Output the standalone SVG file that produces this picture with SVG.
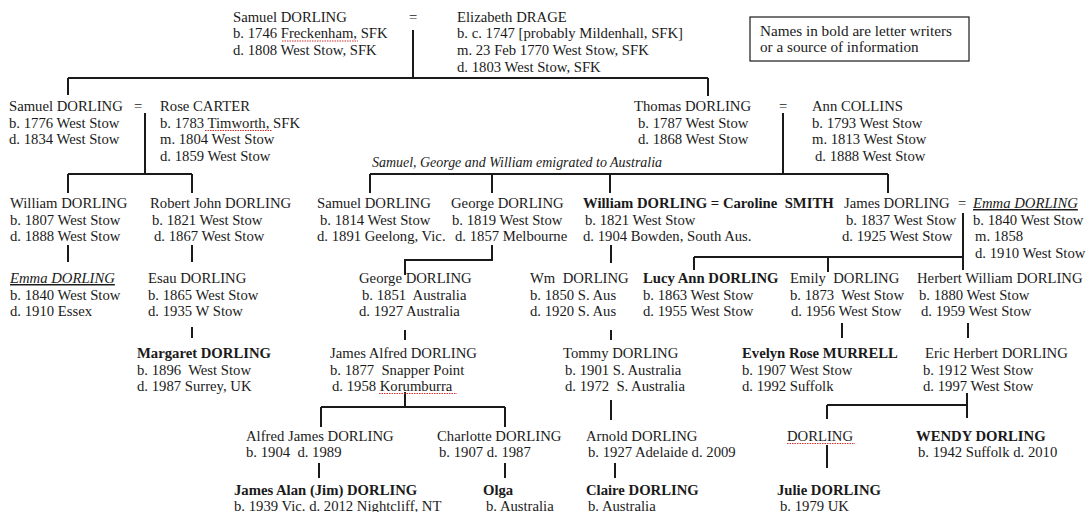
<svg xmlns="http://www.w3.org/2000/svg" width="1089" height="512" viewBox="0 0 1089 512">
<style>
text{font-family:"Liberation Serif","Times New Roman",serif;font-size:14.7px;fill:#1a1a1a;white-space:pre}
.b{font-weight:bold}
.i{font-style:italic}
.u{text-decoration:underline}
.lg{font-size:15.2px}
.c path{stroke:#1a1a1a;stroke-width:2;fill:none}
.w{stroke:#d03030;stroke-width:1;fill:none;stroke-dasharray:1.5 1}
</style>
<rect width="1089" height="512" fill="#fff"/>
<g class="c" id="connectors">
<path d="M413 30V78M68 78H708M68 78V95M708 78V96"/>
<path d="M145 113V174M68 174H192M68 174V193M192 174V193"/>
<path d="M783 113V174M370 174H888M370 174V193M492 174V193M610 174V193M888 174V193"/>
<path d="M68 245V262M192 245V262M492 245V260H405V275M611 245V263"/>
<path d="M963 213V270M694 257H963M694 257V270M828 257V272"/>
<path d="M192 327V338M405 330V340M611 330V340M842 323V338M968 323V338"/>
<path d="M405 392V407M321 407H505M321 407V427M505 407V427M611 400V420"/>
<path d="M967 393V418M827 405H967M827 405V419"/>
<path d="M319 463V478M505 463V478M615 463V478M827 445V468"/>
</g>
<g id="legend">
<rect x="750" y="17" width="219" height="44" fill="#fff" stroke="#1a1a1a" stroke-width="1.2"/>
<text class="lg" x="760" y="36">Names in bold are letter writers</text>
<text class="lg" x="760" y="51.5">or a source of information</text>
</g>
<g id="samuel1746">
<text x="233" y="21.5">Samuel DORLING</text>
<text x="233" y="38">b. 1746 Freckenham, SFK</text>
<text x="233" y="54.5">d. 1808 West Stow, SFK</text>
<path class="w" d="M282 41H358"/>
</g>
<text x="409" y="21.5">=</text>
<g id="elizabeth">
<text x="457" y="21.5">Elizabeth DRAGE</text>
<text x="457" y="38">b. c. 1747 [probably Mildenhall, SFK]</text>
<text x="457" y="54.5">m. 23 Feb 1770 West Stow, SFK</text>
<text x="457" y="71.5">d. 1803 West Stow, SFK</text>
</g>
<g id="samuel1776">
<text x="9" y="111">Samuel DORLING</text>
<text x="134" y="111">=</text>
<text x="9" y="127.5">b. 1776 West Stow</text>
<text x="9" y="144">d. 1834 West Stow</text>
</g>
<g id="rose">
<text x="160" y="111">Rose CARTER</text>
<text x="160" y="127.5">b. 1783 Timworth, SFK</text>
<text x="160" y="144">m. 1804 West Stow</text>
<text x="160" y="160.5">d. 1859 West Stow</text>
<path class="w" d="M205 130.5H272"/>
</g>
<g id="thomas">
<text x="634" y="111">Thomas DORLING</text>
<text x="638" y="127.5">b. 1787 West Stow</text>
<text x="638" y="144">d. 1868 West Stow</text>
</g>
<text x="779" y="111">=</text>
<g id="ann">
<text x="812" y="111">Ann COLLINS</text>
<text x="812" y="127.5">b. 1793 West Stow</text>
<text x="812" y="144">m. 1813 West Stow</text>
<text x="815" y="160.5">d. 1888 West Stow</text>
</g>
<text class="i" x="372" y="167" textLength="290" lengthAdjust="spacingAndGlyphs">Samuel, George and William emigrated to Australia</text>
<g id="william1807">
<text x="10" y="208">William DORLING</text>
<text x="10" y="224.5">b. 1807 West Stow</text>
<text x="10" y="241">d. 1888 West Stow</text>
</g>
<g id="robert">
<text x="150" y="208">Robert John DORLING</text>
<text x="152" y="224.5">b. 1821 West Stow</text>
<text x="154" y="241">d. 1867 West Stow</text>
</g>
<g id="samuel1814">
<text x="317" y="208">Samuel DORLING</text>
<text x="320" y="224.5">b. 1814 West Stow</text>
<text x="317" y="241">d. 1891 Geelong, Vic.</text>
</g>
<g id="george1819">
<text x="451" y="208">George DORLING</text>
<text x="452" y="224.5">b. 1819 West Stow</text>
<text x="455" y="241">d. 1857 Melbourne</text>
</g>
<g id="william1821">
<text class="b" x="583" y="208">William DORLING = Caroline  SMITH</text>
<text x="585" y="224.5">b. 1821 West Stow</text>
<text x="583" y="241">d. 1904 Bowden, South Aus.</text>
</g>
<g id="james1837">
<text x="844" y="208">James DORLING</text>
<text x="958" y="208">=</text>
<text x="846" y="224.5">b. 1837 West Stow</text>
<text x="842" y="241">d. 1925 West Stow</text>
</g>
<g id="emma1840b">
<text class="i u" x="973" y="208">Emma DORLING</text>
<text x="973" y="224.5">b. 1840 West Stow</text>
<text x="975" y="241">m. 1858</text>
<text x="975" y="257.5">d. 1910 West Stow</text>
</g>
<g id="emma1840a">
<text class="i u" x="10" y="283">Emma DORLING</text>
<text x="10" y="299.5">b. 1840 West Stow</text>
<text x="10" y="316">d. 1910 Essex</text>
</g>
<g id="esau">
<text x="148" y="283">Esau DORLING</text>
<text x="148" y="299.5">b. 1865 West Stow</text>
<text x="148" y="316">d. 1935 W Stow</text>
</g>
<g id="george1851">
<text x="359" y="283">George DORLING</text>
<text x="362" y="299.5">b. 1851  Australia</text>
<text x="359" y="316">d. 1927 Australia</text>
</g>
<g id="wm1850">
<text x="530" y="283">Wm  DORLING</text>
<text x="530" y="299.5">b. 1850 S. Aus</text>
<text x="530" y="316">d. 1920 S. Aus</text>
</g>
<g id="lucy">
<text class="b" x="643" y="283">Lucy Ann DORLING</text>
<text x="643" y="299.5">b. 1863 West Stow</text>
<text x="643" y="316">d. 1955 West Stow</text>
</g>
<g id="emily">
<text x="790" y="283">Emily  DORLING</text>
<text x="790" y="299.5">b. 1873  West Stow</text>
<text x="791" y="316">d. 1956 West Stow</text>
</g>
<g id="herbert">
<text x="917" y="283">Herbert William DORLING</text>
<text x="919" y="299.5">b. 1880 West Stow</text>
<text x="921" y="316">d. 1959 West Stow</text>
</g>
<g id="margaret">
<text class="b" x="137" y="358">Margaret DORLING</text>
<text x="137" y="374.5">b. 1896  West Stow</text>
<text x="137" y="391">d. 1987 Surrey, UK</text>
</g>
<g id="jamesalfred">
<text x="330" y="358">James Alfred DORLING</text>
<text x="330" y="374.5">b. 1877  Snapper Point</text>
<text x="332" y="391">d. 1958 Korumburra</text>
<path class="w" d="M379 393.5H457"/>
</g>
<g id="tommy">
<text x="563" y="358">Tommy DORLING</text>
<text x="565" y="374.5">b. 1901 S. Australia</text>
<text x="565" y="391">d. 1972  S. Australia</text>
</g>
<g id="evelyn">
<text class="b" x="742" y="358">Evelyn Rose MURRELL</text>
<text x="742" y="374.5">b. 1907 West Stow</text>
<text x="742" y="391">d. 1992 Suffolk</text>
</g>
<g id="eric">
<text x="925" y="358">Eric Herbert DORLING</text>
<text x="923" y="374.5">b. 1912 West Stow</text>
<text x="923" y="391">d. 1997 West Stow</text>
</g>
<g id="alfredjames">
<text x="246" y="440.5">Alfred James DORLING</text>
<text x="246" y="457">b. 1904  d. 1989</text>
</g>
<g id="charlotte">
<text x="437" y="440.5">Charlotte DORLING</text>
<text x="439" y="457">b. 1907 d. 1987</text>
</g>
<g id="arnold">
<text x="586" y="440.5">Arnold DORLING</text>
<text x="588" y="457">b. 1927 Adelaide d. 2009</text>
</g>
<g id="dorling">
<text x="787" y="440.5">DORLING</text>
<path class="w" d="M787 443.5H855"/>
</g>
<g id="wendy">
<text class="b" x="916" y="440.5">WENDY DORLING</text>
<text x="918" y="457">b. 1942 Suffolk d. 2010</text>
</g>
<g id="jim">
<text class="b" x="234" y="495">James Alan (Jim) DORLING</text>
<text x="234" y="511">b. 1939 Vic. d. 2012 Nightcliff, NT</text>
</g>
<g id="olga">
<text class="b" x="483" y="495">Olga</text>
<text x="486" y="511">b. Australia</text>
</g>
<g id="claire">
<text class="b" x="586" y="495">Claire DORLING</text>
<text x="588" y="511">b. Australia</text>
</g>
<g id="julie">
<text class="b" x="777" y="495">Julie DORLING</text>
<text x="780" y="511">b. 1979 UK</text>
</g>
</svg>
